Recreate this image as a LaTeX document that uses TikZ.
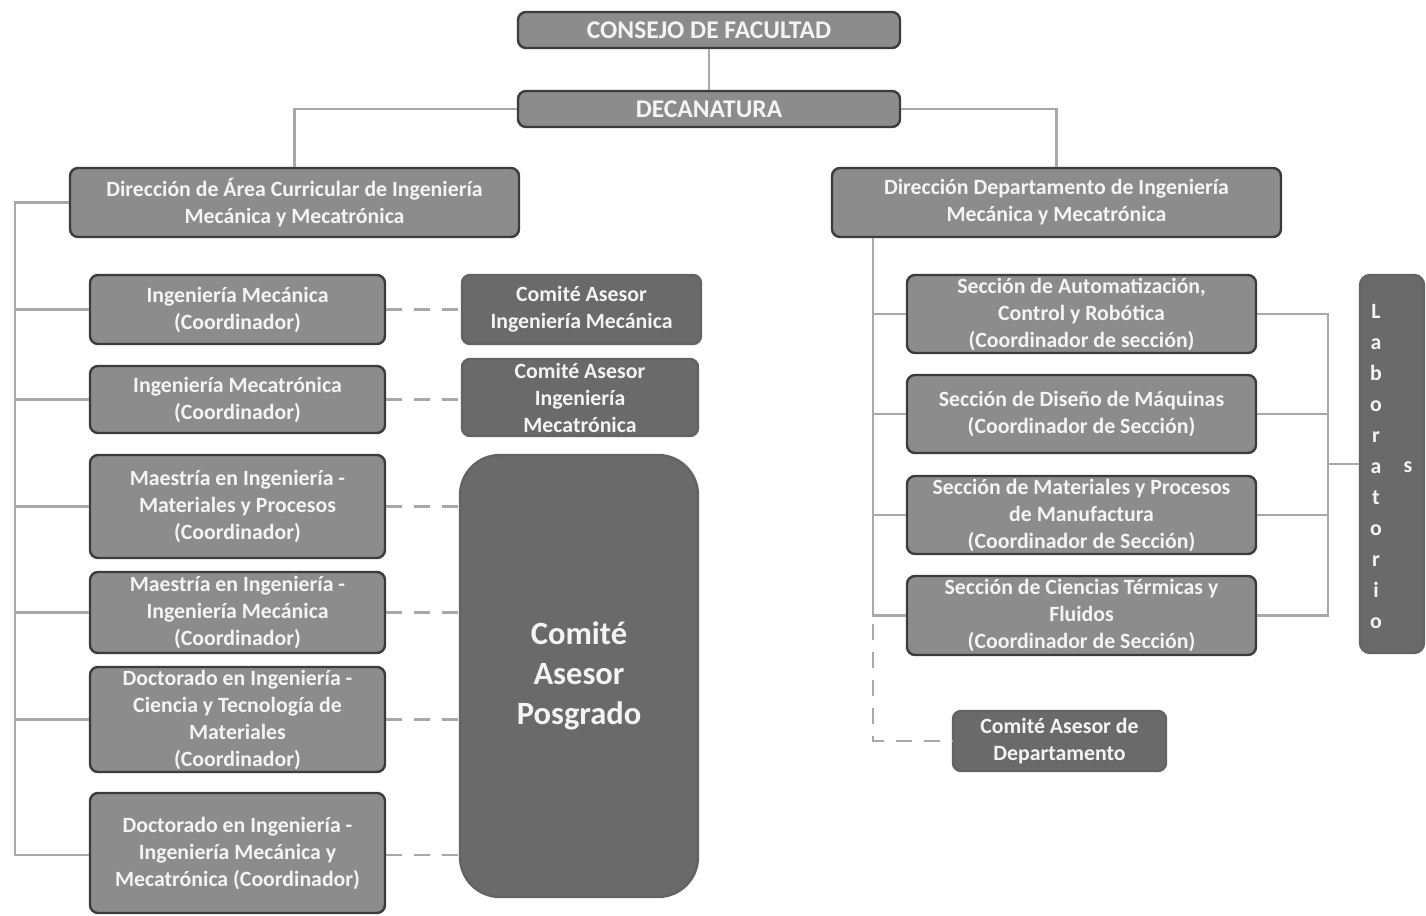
\documentclass[tikz,border=0pt]{standalone}
\usepackage{fontspec}
\setmainfont{Carlito}
\definecolor{lg}{HTML}{8C8C8C}
\definecolor{dg}{HTML}{6A6A6A}
\definecolor{bd}{HTML}{3C3C3C}
\definecolor{lnc}{HTML}{A8A8A8}
\definecolor{txt}{HTML}{F4F4F4}
\begin{document}
\begin{tikzpicture}[x=1pt,y=-1pt,
  box/.style={draw=bd, line width=2.4pt, rounded corners=8pt, fill=lg, text=txt,
    font=\bfseries\fontsize{21.8}{27}\selectfont, align=center, inner sep=0pt},
  dbox/.style={box, fill=dg, draw=bd!80},
  title/.style={font=\bfseries\fontsize{25.5}{27}\selectfont},
  ln/.style={draw=lnc, line width=2.4pt},
  dsh/.style={draw=lnc, line width=2.4pt, dash pattern=on 16pt off 12pt},
  ltr/.style={text=txt, font=\bfseries\fontsize{21.8}{31}\selectfont, align=center, inner sep=0pt}]
\useasboundingbox (0,0) rectangle (1426,915);

\node[box,title,minimum width=382pt,minimum height=36pt] (cf) at (709,30) {CONSEJO DE FACULTAD};
\node[box,title,minimum width=382pt,minimum height=36pt] (dec) at (709,109) {DECANATURA};
\node[box,minimum width=449pt,minimum height=69pt] (dac) at (294.5,202.5) {Dirección de Área Curricular de Ingeniería\\Mecánica y Mecatrónica};
\node[box,minimum width=449pt,minimum height=69pt] (ddep) at (1056.5,202.5) {Dirección Departamento de Ingeniería\\Mecánica y Mecatrónica};

\node[box,minimum width=295pt,minimum height=69pt] (im) at (237.5,309.5) {Ingeniería Mecánica\\(Coordinador)};
\node[box,minimum width=295pt,minimum height=67pt] (imt) at (237.5,399.5) {Ingeniería Mecatrónica\\(Coordinador)};
\node[box,minimum width=295pt,minimum height=103pt] (mmp) at (237.5,506.5) {Maestría en Ingeniería -\\Materiales y Procesos\\(Coordinador)};
\node[box,minimum width=295pt,minimum height=81pt] (mim) at (237.5,612.5) {Maestría en Ingeniería -\\Ingeniería Mecánica\\(Coordinador)};
\node[box,minimum width=295pt,minimum height=105pt] (dcm) at (237.5,719.5) {Doctorado en Ingeniería -\\Ciencia y Tecnología de\\Materiales\\(Coordinador)};
\node[box,minimum width=295pt,minimum height=120pt] (dmm) at (237.5,853) {Doctorado en Ingeniería -\\Ingeniería Mecánica y\\Mecatrónica (Coordinador)};

\node[dbox,minimum width=239pt,minimum height=69pt] (cim) at (581.5,309.5) {Comité Asesor\\Ingeniería Mecánica};
\node[dbox,minimum width=236pt,minimum height=77pt] (cimt) at (580,397.5) {Comité Asesor\\Ingeniería\\Mecatrónica};
\node[dbox,rounded corners=40pt,minimum width=238pt,minimum height=442pt,font=\bfseries\fontsize{32.5}{40}\selectfont] (cpos) at (579,676) {Comité\\Asesor\\Posgrado};

\node[box,minimum width=349pt,minimum height=78pt] (sac) at (1081.5,314) {Sección de Automatización,\\Control y Robótica\\(Coordinador de sección)};
\node[box,minimum width=349pt,minimum height=78pt] (sdm) at (1081.5,414) {Sección de Diseño de Máquinas\\(Coordinador de Sección)};
\node[box,minimum width=349pt,minimum height=78pt] (smp) at (1081.5,515) {Sección de Materiales y Procesos\\de Manufactura\\(Coordinador de Sección)};
\node[box,minimum width=349pt,minimum height=79pt] (sct) at (1081.5,615.5) {Sección de Ciencias Térmicas y\\Fluidos\\(Coordinador de Sección)};

\node[dbox,rounded corners=10pt,minimum width=64pt,minimum height=378pt] (lab) at (1392,464) {};
\node[ltr] (labl) at (1376,467) {L\\a\\b\\o\\r\\a\\t\\o\\r\\i\\o};
\node[ltr] (labs) at (1408,467) {s};

\node[dbox,minimum width=213pt,minimum height=60pt] (cad) at (1059.5,741) {Comité Asesor de\\Departamento};

% connectors
\draw[ln] (cf) -- (dec);
\draw[ln] (dec.west) -| (dac.north);
\draw[ln] (dec.east) -| (ddep.north);

\coordinate (lbt) at (15,202.5);
\coordinate (lbb) at (15,855);
\draw[ln] (dac.west) -- (lbt) -- (lbb) -- (lbb -| dmm.west);
\foreach \n in {im,imt,mmp,mim,dcm} \draw[ln] (\n.west) -- (\n.west -| lbt);

\draw[dsh] (im.east) -- (cim.west);
\draw[dsh] (imt.east) -- (imt.east -| cimt.west);
\foreach \n in {mmp,mim,dcm} \draw[dsh] (\n.east) -- (\n.east -| cpos.west);
\draw[dsh] (lbb -| dmm.east) -- (lbb -| cpos.west);

\coordinate (rb) at (873,0);
\draw[ln] (ddep.south -| rb) |- (sct.west);
\foreach \n in {sac,sdm,smp} \draw[ln] (\n.west) -- (\n.west -| rb);
\draw[dsh] ([yshift=-8pt]sct.west -| rb) |- (cad.west);

\coordinate (lx) at (1328,0);
\draw[ln] (sac.east) -- (sac.east -| lx) -- (sct.east -| lx) -- (sct.east);
\foreach \n in {sdm,smp} \draw[ln] (\n.east) -- (\n.east -| lx);
\draw[ln] (lab.west) -- (lab.west -| lx);
\end{tikzpicture}
\end{document}
